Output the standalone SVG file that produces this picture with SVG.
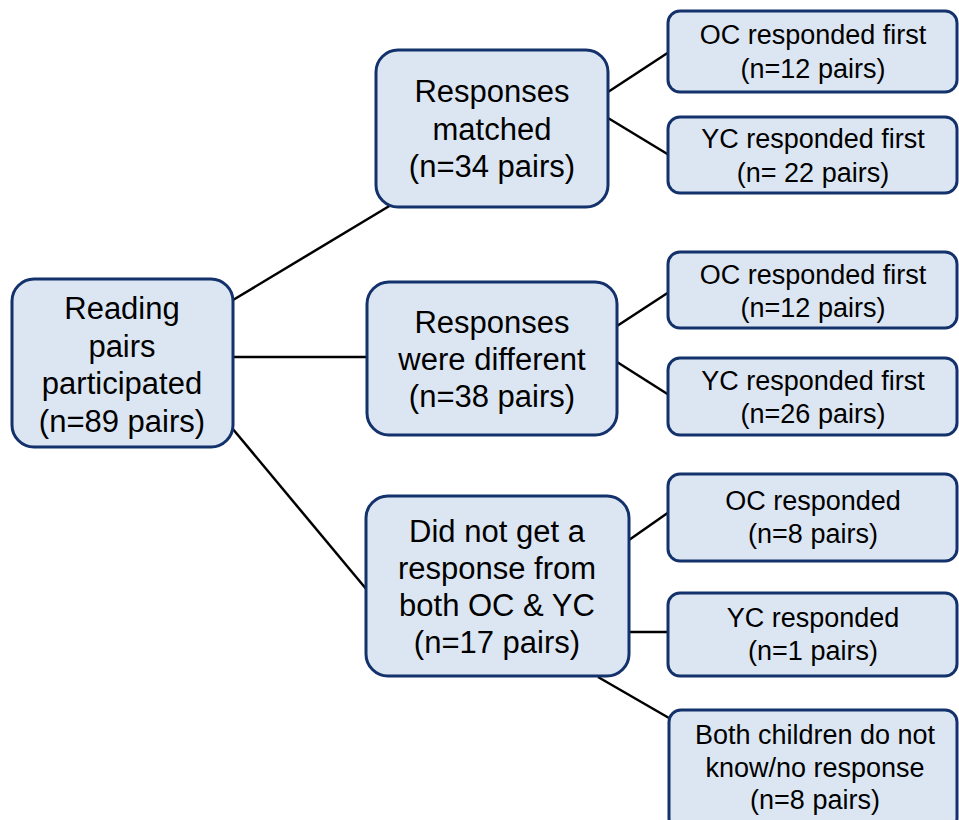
<svg xmlns="http://www.w3.org/2000/svg" width="959" height="820" viewBox="0 0 959 820">
<style>
.box{fill:#dce6f2;stroke:#13316b;stroke-width:3}
.t{font-family:"Liberation Sans",Arial,sans-serif;fill:#000;text-anchor:middle}
.big{font-size:31px}
.sm{font-size:27px}
.c line{stroke:#000;stroke-width:2.5}
</style>
<rect width="959" height="820" fill="#fff"/>
<g class="c" id="connectors">
<line x1="233" y1="300" x2="391" y2="205"/>
<line x1="233" y1="357" x2="367" y2="357"/>
<line x1="232" y1="428" x2="367" y2="590"/>
<line x1="608" y1="92" x2="669" y2="52"/>
<line x1="608" y1="118" x2="669" y2="155"/>
<line x1="617" y1="326" x2="669" y2="292"/>
<line x1="617" y1="362" x2="669" y2="395"/>
<line x1="629" y1="540" x2="669" y2="512"/>
<line x1="629" y1="632" x2="669" y2="632"/>
<line x1="598" y1="677" x2="669" y2="718"/>
</g>
<g id="root"><rect class="box" x="12" y="279" width="221" height="168" rx="22"/>
<text class="t big"><tspan x="122" y="319">Reading</tspan><tspan x="122" y="357">pairs</tspan><tspan x="122" y="394">participated</tspan><tspan x="122" y="432">(n=89 pairs)</tspan></text></g>
<g id="matched"><rect class="box" x="376" y="50" width="232" height="157" rx="22"/>
<text class="t big"><tspan x="492" y="102">Responses</tspan><tspan x="492" y="140">matched</tspan><tspan x="492" y="177">(n=34 pairs)</tspan></text></g>
<g id="different"><rect class="box" x="367" y="282" width="250" height="153" rx="22"/>
<text class="t big"><tspan x="492" y="333">Responses</tspan><tspan x="492" y="370">were different</tspan><tspan x="492" y="407">(n=38 pairs)</tspan></text></g>
<g id="noresp"><rect class="box" x="366" y="496" width="263" height="180" rx="22"/>
<text class="t big"><tspan x="497" y="542">Did not get a</tspan><tspan x="497" y="579">response from</tspan><tspan x="497" y="616">both OC &amp; YC</tspan><tspan x="497" y="653">(n=17 pairs)</tspan></text></g>
<g id="m-oc"><rect class="box" x="668" y="11" width="289" height="81" rx="12"/>
<text class="t sm"><tspan x="813" y="44">OC responded first</tspan><tspan x="813" y="78">(n=12 pairs)</tspan></text></g>
<g id="m-yc"><rect class="box" x="668" y="117" width="289" height="76" rx="12"/>
<text class="t sm"><tspan x="813" y="148">YC responded first</tspan><tspan x="813" y="182">(n= 22 pairs)</tspan></text></g>
<g id="d-oc"><rect class="box" x="668" y="252" width="289" height="76" rx="12"/>
<text class="t sm"><tspan x="813" y="284">OC responded first</tspan><tspan x="813" y="317">(n=12 pairs)</tspan></text></g>
<g id="d-yc"><rect class="box" x="668" y="358" width="289" height="77" rx="12"/>
<text class="t sm"><tspan x="813" y="390">YC responded first</tspan><tspan x="813" y="423">(n=26 pairs)</tspan></text></g>
<g id="n-oc"><rect class="box" x="668" y="474" width="289" height="87" rx="12"/>
<text class="t sm"><tspan x="813" y="510">OC responded</tspan><tspan x="813" y="543">(n=8 pairs)</tspan></text></g>
<g id="n-yc"><rect class="box" x="668" y="593" width="289" height="83" rx="12"/>
<text class="t sm"><tspan x="813" y="627">YC responded</tspan><tspan x="813" y="660">(n=1 pairs)</tspan></text></g>
<g id="n-both"><rect class="box" x="669" y="710" width="288" height="120" rx="12"/>
<text class="t sm"><tspan x="815" y="744">Both children do not</tspan><tspan x="815" y="777">know/no response</tspan><tspan x="815" y="809">(n=8 pairs)</tspan></text></g>
</svg>
